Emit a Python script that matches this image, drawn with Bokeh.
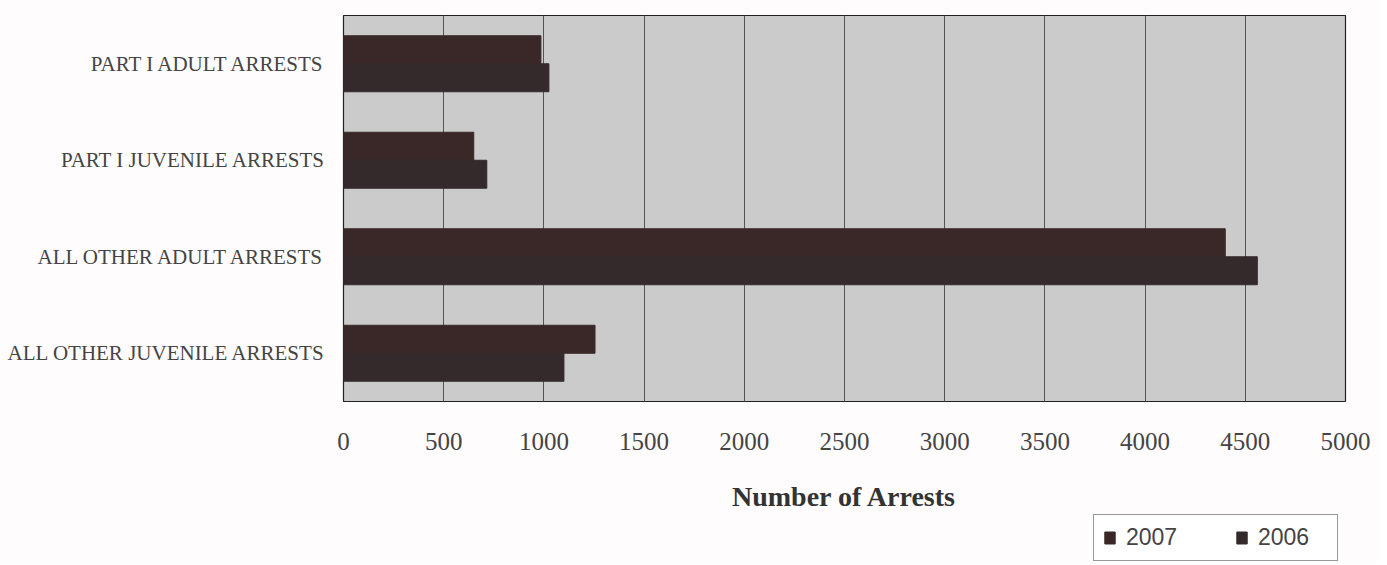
from bokeh.plotting import figure
from bokeh.layouts import column
from bokeh.models import FactorRange, ColumnDataSource, Legend, LegendItem, SingleIntervalTicker, Range1d
from bokeh.transform import dodge
from bokeh.embed import file_html
from bokeh.resources import INLINE

categories = ["PART I ADULT ARRESTS", "PART I JUVENILE ARRESTS",
              "ALL OTHER ADULT ARRESTS", "ALL OTHER JUVENILE ARRESTS"]
arrests_2007 = [985, 650, 4400, 1255]
arrests_2006 = [1025, 715, 4560, 1100]
series = ["2007", "2006"]
colors = ["#3a2828", "#352a2b"]

src = ColumnDataSource(dict(cat=categories, a2007=arrests_2007, a2006=arrests_2006))

p = figure(width=1379, height=514, output_backend="svg", toolbar_location=None,
           y_range=FactorRange(factors=list(reversed(categories))),
           x_range=Range1d(0, 5000),
           min_border_left=343, min_border_right=34, min_border_top=15, min_border_bottom=111)

p.background_fill_color = "#cbcbcb"
p.border_fill_color = "#fefcfc"
p.outline_line_color = "#222222"
p.outline_line_width = 1.2

p.hbar(y=dodge("cat", 0.145, range=p.y_range), right="a2007", left=0, height=0.29,
       source=src, fill_color=colors[0], line_color=colors[0])
p.hbar(y=dodge("cat", -0.145, range=p.y_range), right="a2006", left=0, height=0.29,
       source=src, fill_color=colors[1], line_color=colors[1])

p.xaxis.ticker = SingleIntervalTicker(interval=500)
p.xaxis.axis_line_color = None
p.xaxis.major_tick_line_color = None
p.xaxis.minor_tick_line_color = None
p.xaxis.major_tick_out = 0
p.xaxis.major_tick_in = 0
p.xaxis.major_label_standoff = 27
p.xaxis.major_label_text_font = "Liberation Serif"
p.xaxis.major_label_text_font_size = "25px"
p.xaxis.major_label_text_color = "#444444"
p.xaxis.axis_label = "Number of Arrests"
p.xaxis.axis_label_text_font = "Liberation Serif"
p.xaxis.axis_label_text_font_size = "28px"
p.xaxis.axis_label_text_font_style = "bold"
p.xaxis.axis_label_text_color = "#333333"
p.xaxis.axis_label_standoff = 28

p.yaxis.axis_line_color = None
p.yaxis.major_tick_line_color = None
p.yaxis.minor_tick_line_color = None
p.yaxis.major_tick_out = 0
p.yaxis.major_tick_in = 0
p.yaxis.major_label_standoff = 18
p.yaxis.major_label_text_font = "Liberation Serif"
p.yaxis.major_label_text_font_size = "21px"
p.yaxis.major_label_text_color = "#444444"

p.xgrid.grid_line_color = "#555555"
p.xgrid.grid_line_width = 1
p.ygrid.grid_line_color = None

# Legend strip below the chart (its bars sit far outside the strip's visible range)
lg = figure(width=1379, height=50, output_backend="svg", toolbar_location=None,
            x_range=Range1d(0, 5000), y_range=Range1d(0, 1),
            x_axis_location=None, y_axis_location=None,
            min_border_left=343, min_border_right=34, min_border_top=0, min_border_bottom=0)
lg.outline_line_color = None
lg.background_fill_color = "#fefcfc"
lg.border_fill_color = "#fefcfc"
lg.grid.grid_line_color = None
l1 = lg.hbar(y=-100, right="a2007", left=0, height=0.3, source=src,
             fill_color=colors[0], line_color=colors[0])
l2 = lg.hbar(y=-100, right="a2006", left=0, height=0.3, source=src,
             fill_color=colors[1], line_color=colors[1])

legend = Legend(items=[LegendItem(label=series[0], renderers=[l1]),
                       LegendItem(label=series[1], renderers=[l2])],
                orientation="horizontal", location=(1093 - 343, 3))
legend.label_text_font = "Liberation Sans"
legend.label_text_font_size = "23px"
legend.label_text_color = "#444444"
legend.glyph_width = 13
legend.glyph_height = 15
legend.label_width = 70
legend.label_height = 20
legend.spacing = 39
legend.padding = 9
legend.margin = 0
legend.label_standoff = 10
legend.border_line_color = "#333333"
legend.border_line_width = 1.5
legend.background_fill_color = "#ffffff"
legend.background_fill_alpha = 1
lg.add_layout(legend, "center")

layout = column(p, lg, spacing=0)
open("out.html", "w").write(file_html(layout, INLINE))
